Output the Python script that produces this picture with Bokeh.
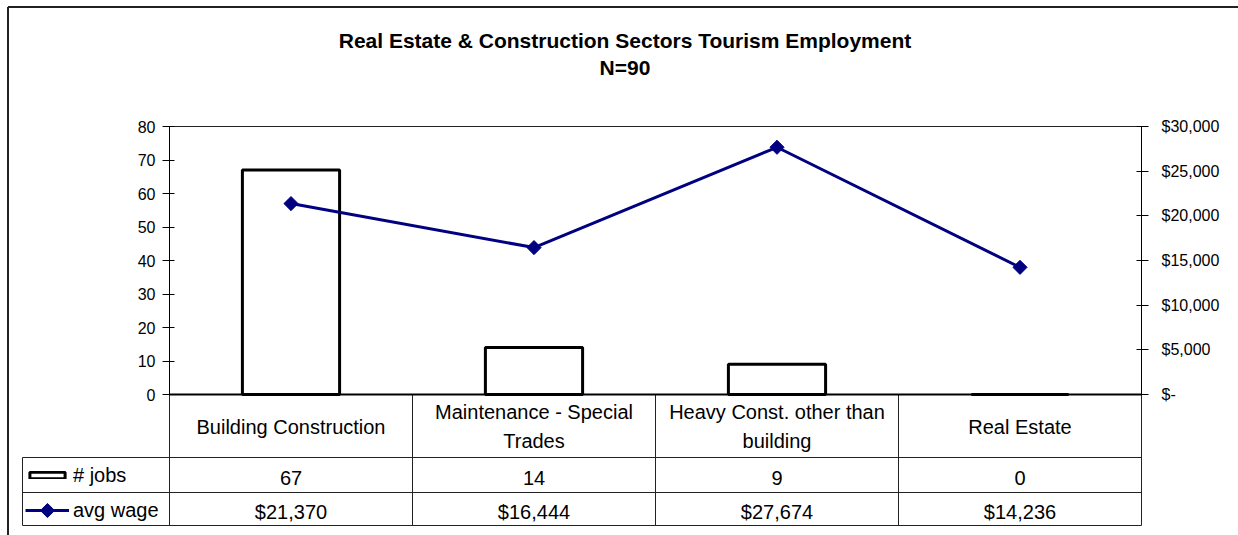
import math
from bokeh.plotting import figure
from bokeh.models import (Range1d, LinearAxis, FixedTicker, CustomJSTickFormatter,
                          ColumnDataSource, Legend, LegendItem)
from bokeh.core.properties import value
from bokeh.embed import file_html
from bokeh.resources import INLINE

# ---------------- data ----------------
categories = ["Building Construction", "Maintenance - Special Trades",
              "Heavy Const. other than building", "Real Estate"]
category_labels = ["Building Construction", "Maintenance - Special\nTrades",
                   "Heavy Const. other than\nbuilding", "Real Estate"]
jobs = [67, 14, 9, 0]
avg_wage = [21370, 16444, 27674, 14236]
jobs_ticks = [0, 10, 20, 30, 40, 50, 60, 70, 80]
wage_ticks = [0, 5000, 10000, 15000, 20000, 25000, 30000]
series_names = ["# jobs", "avg wage"]
title_text = "Real Estate & Construction Sectors Tourism Employment"
subtitle_text = "N=90"

# ---------------- layout (page px) ----------------
W, H = 1238, 535
PL, PR, PT, PZ = 169, 1141, 126, 394      # plot area left/right/top, y of zero
TB = 525                                  # table bottom
ROW1, ROW2 = 457, 492                     # table row lines
LEGL = 22                                 # legend column left edge
FONT = "Liberation Sans"
LINE = "#222222"
NAVY = "#000080"

n = len(categories)
ppx = (PR - PL) / n                       # px per category column
ppj = (PZ - PT) / jobs_ticks[-1]          # px per job unit
def dx(px):
    return (px - PL) / ppx
def dy(py):
    return (PZ - py) / ppj

wage_scale = wage_ticks[-1] / jobs_ticks[-1]
xpos = [i + 0.5 for i in range(n)]

p = figure(width=W, height=H,
           x_range=Range1d(dx(0), dx(W)), y_range=Range1d(dy(H), dy(0)),
           x_axis_location=None, y_axis_location="left", title_location=None,
           output_backend="svg", toolbar_location=None,
           min_border_left=0, min_border_right=0, min_border_top=0, min_border_bottom=0)
p.grid.visible = False
p.outline_line_color = None
p.background_fill_color = "white"
p.border_fill_color = "white"

def style_axis(ax, standoff):
    ax.axis_line_color = "black"
    ax.major_tick_line_color = "black"
    ax.major_tick_in = 5
    ax.major_tick_out = 7
    ax.minor_tick_in = 0
    ax.minor_tick_out = 0
    ax.major_label_standoff = standoff
    ax.major_label_text_font = FONT
    ax.major_label_text_font_size = "16px"
    ax.major_label_text_color = "black"

ax_l = p.yaxis[0]
ax_l.ticker = FixedTicker(ticks=jobs_ticks)
ax_l.bounds = (0, jobs_ticks[-1])
ax_l.fixed_location = 0
style_axis(ax_l, 7)

p.extra_y_ranges = {"wage": Range1d(dy(H) * wage_scale, dy(0) * wage_scale)}
ax_r = LinearAxis(y_range_name="wage", ticker=FixedTicker(ticks=wage_ticks),
                  bounds=(0, wage_ticks[-1]), fixed_location=n,
                  formatter=CustomJSTickFormatter(
                      code="return tick == 0 ? '$-' : '$' + tick.toLocaleString('en-US');"))
style_axis(ax_r, 13)
p.add_layout(ax_r, "right")

src = ColumnDataSource(dict(
    x=xpos, label=category_labels, jobs=jobs, wage=avg_wage,
    jobs_txt=[str(j) for j in jobs],
    wage_txt=["${:,}".format(w) for w in avg_wage],
))

# plot-area box top line
p.segment(x0=[0], x1=[n], y0=[jobs_ticks[-1]], y1=[jobs_ticks[-1]], line_color=LINE, line_width=1)

bars = p.vbar(x="x", top="jobs", bottom=0, width=0.4, source=src,
              fill_color="white", line_color="black", line_width=3)

# table grid
vx = list(range(n + 1))
p.segment(x0=vx, x1=vx, y0=[0] * (n + 1), y1=[dy(TB)] * (n + 1), line_color=LINE, line_width=1)
p.segment(x0=[dx(LEGL)] * 3, x1=[n] * 3, y0=[dy(ROW1), dy(ROW2), dy(TB)],
          y1=[dy(ROW1), dy(ROW2), dy(TB)], line_color=LINE, line_width=1)
p.segment(x0=[dx(LEGL)], x1=[dx(LEGL)], y0=[dy(ROW1)], y1=[dy(TB)], line_color=LINE, line_width=1)
p.segment(x0=[0], x1=[n], y0=[0], y1=[0], line_color="black", line_width=2)

# outer chart border (left & top)
p.segment(x0=[dx(7.5), dx(7.5)], x1=[dx(7.5), dx(W + 10)], y0=[dy(6.5), dy(6.5)],
          y1=[dy(H + 10), dy(6.5)], line_color=LINE, line_width=2)

ln = p.line(x="x", y="wage", y_range_name="wage", source=src, line_color=NAVY, line_width=3)
mk = p.scatter(x="x", y="wage", y_range_name="wage", source=src,
               marker="square", angle=math.pi / 4, size=10,
               fill_color=NAVY, line_color=NAVY)

# table texts
p.text(x="x", y=dy(426), text="label", source=src, text_align="center",
       text_baseline="middle", text_font=value(FONT), text_font_size="20px",
       text_color="black", text_line_height=1.3)
p.text(x="x", y=dy(477), text="jobs_txt", source=src, text_align="center",
       text_baseline="middle", text_font=value(FONT), text_font_size="20px",
       text_color="black")
p.text(x="x", y=dy(511), text="wage_txt", source=src, text_align="center",
       text_baseline="middle", text_font=value(FONT), text_font_size="20px",
       text_color="black")

# titles
p.text(x=[dx(624.5), dx(624.5)], y=[dy(40), dy(67)], text=[title_text, subtitle_text],
       text_align="center", text_baseline="middle", text_font=value(FONT),
       text_font_size="21px", text_font_style="bold", text_color="black")

# legend (inside the table's first column)
leg_common = dict(padding=0, margin=0, border_line_color=None, background_fill_alpha=0,
                  glyph_width=44, label_standoff=4, label_text_font=FONT,
                  label_text_font_size="20px", label_text_color="black")
leg1 = Legend(items=[LegendItem(label=series_names[0], renderers=[bars])],
              location=(25, H - 486.5), glyph_height=8, **leg_common)
leg2 = Legend(items=[LegendItem(label=series_names[1], renderers=[ln])],
              location=(25, H - 523), glyph_height=26, **leg_common)
p.add_layout(leg1)
p.add_layout(leg2)
# diamond marker of the legend swatch (rotated square, like the series markers)
p.scatter(x=[dx(47)], y=[dy(510)], marker="square", angle=math.pi / 4, size=10,
          fill_color=NAVY, line_color=NAVY)

open("out.html", "w").write(file_html(p, INLINE))
